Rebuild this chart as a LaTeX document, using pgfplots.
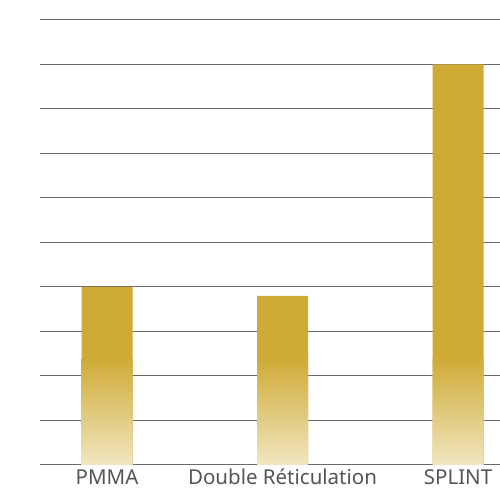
\documentclass[border=0pt]{standalone}
\usepackage{pgfplots}
\pgfplotsset{compat=1.18}
\usepackage{fontspec}
\setmainfont{Noto Sans}
\definecolor{gold}{HTML}{CFAB36}
\definecolor{pale}{HTML}{F1E6C0}
\definecolor{lbl}{HTML}{555555}
\definecolor{gridc}{HTML}{6A6A6A}
\begin{document}
\begin{tikzpicture}[x=1pt,y=1pt]
\path[use as bounding box] (-40,-24) rectangle (460,465);
\begin{axis}[
  at={(0,0)}, anchor=south west,
  scale only axis, width=460pt, height=445pt,
  xmin=-0.382, xmax=2.239, ymin=0, ymax=10,
  ytick={0,...,10}, yticklabels={},
  xtick={0,1,2}, xticklabels={PMMA, Double Réticulation, SPLINT},
  major tick length=0pt,
  ymajorgrids, grid style={gridc, line width=1pt},
  axis line style={draw=none},
  x tick label style={font=\fontsize{20.5}{24}\selectfont, text=lbl, anchor=base, inner sep=0pt, yshift=-20pt},
  clip=false,
]
\addplot[ybar, bar width=51pt, bar shift=0pt, fill=gold, draw=none] coordinates {(0,4) (1,3.8) (2,9)};
\addplot[ybar, bar width=51pt, bar shift=0pt, draw=none, top color=gold, bottom color=pale] coordinates {(0,2.4) (1,2.4) (2,2.4)};
\end{axis}
\end{tikzpicture}
\end{document}
